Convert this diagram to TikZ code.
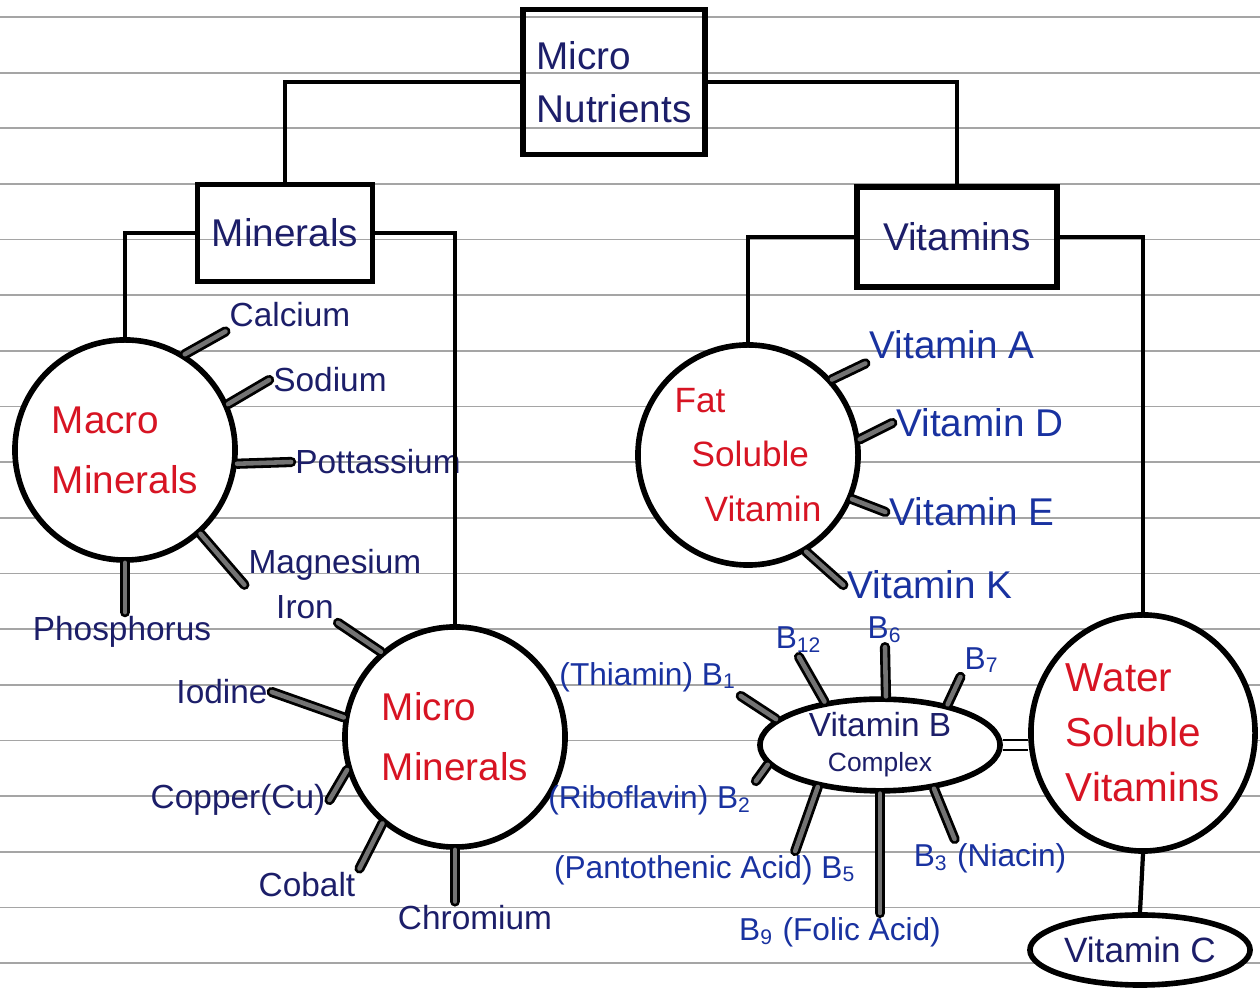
\documentclass[tikz,border=0pt]{standalone}
\usepackage{fontspec}
\setmainfont{Liberation Sans}
\usetikzlibrary{shapes.geometric,positioning,calc}
\definecolor{ink-navy}{RGB}{28,30,105}
\definecolor{ink-blue}{RGB}{25,50,160}
\definecolor{ink-red}{RGB}{215,20,35}
\definecolor{ruled}{RGB}{165,165,165}

\begin{document}
\begin{tikzpicture}[x=0.01cm, y=-0.01cm,
    headbox/.style={rectangle, draw, line width=1.5pt, text=ink-navy, align=left, font=\fontsize{11}{15}\selectfont},
    group/.style={circle, draw, line width=1.6pt, fill=white, text=ink-red, align=left, minimum size=2.2cm, inner sep=-10pt, font=\fontsize{11}{17}\selectfont},
    oval/.style={ellipse, draw, line width=1.6pt, fill=white, inner sep=0pt},
    leaf/.style={text=ink-navy, inner sep=1pt, font=\fontsize{9.5}{12}\selectfont},
    vit/.style={leaf, text=ink-blue, font=\fontsize{11}{13}\selectfont},
    bvit/.style={leaf, text=ink-blue, font=\fontsize{9}{11}\selectfont},
    link/.style={line width=1.2pt},
    spoke/.style={line width=0.8pt, double=black!55, double distance=1.3pt, line cap=round}]

    \useasboundingbox (0,0) rectangle (1260,992);

    % Ruled paper
    \foreach \k in {0,...,17}
        \draw[ruled, line width=0.5pt] (0,{17+55.65*\k}) -- (1260,{17+55.65*\k});

    % Boxes
    \node[headbox, minimum width=1.82cm, minimum height=1.45cm] (micronut) at (614,82) {Micro\\Nutrients};
    \node[headbox, minimum width=1.75cm, minimum height=0.97cm] (minerals) at (285,233) {Minerals};
    \node[headbox, minimum width=2.0cm, minimum height=1.0cm] (vitamins) at (957,237) {Vitamins};

    % Groups
    \node[group] (macro) at (125,450) {Macro\\Minerals};
    \node[group] (micro) at (455,737) {Micro\\Minerals};
    \node[group, font=\fontsize{10}{15.6}\selectfont] (fat) at (748,455)
        {Fat\\\hspace*{0.17cm}Soluble\\\hspace*{0.3cm}Vitamin};
    \node[oval, text=ink-red, align=left, minimum width=2.24cm, minimum height=2.36cm,
        font=\fontsize{11.5}{15.6}\selectfont] (water) at (1143,733) {Water\\Soluble\\Vitamins};
    \node[oval, text=ink-navy, align=center, minimum width=2.4cm, minimum height=0.9cm,
        font=\fontsize{9.5}{10}\selectfont] (vitb) at (880,745) {Vitamin B\\{\fontsize{7.5}{8}\selectfont Complex}};
    \node[oval, text=ink-navy, minimum width=2.2cm, minimum height=0.7cm,
        font=\fontsize{10}{12}\selectfont] (vitc) at (1140,950) {Vitamin C};

    % Macro minerals
    \node[leaf] (calcium) at (290,315) {Calcium};
    \node[leaf] (sodium) at (330,380) {Sodium};
    \node[leaf] (potassium) at (378,462) {Pottassium};
    \node[leaf] (magnesium) at (335,565) {Magnesium};
    \node[leaf] (phosphorus) at (122,632) {Phosphorus};

    % Micro minerals
    \node[leaf] (iron) at (305,607) {Iron};
    \node[leaf] (iodine) at (222,692) {Iodine};
    \node[leaf] (copper) at (238,800) {Copper(Cu)};
    \node[leaf] (cobalt) at (307,885) {Cobalt};
    \node[leaf] (chromium) at (475,918) {Chromium};

    % Fat soluble
    \node[vit] (vita) at (952,345) {Vitamin A};
    \node[vit] (vitd) at (980,423) {Vitamin D};
    \node[vit] (vite) at (972,512) {Vitamin E};
    \node[vit] (vitk) at (930,585) {Vitamin K};

    % B complex
    \node[bvit] (thiamin) at (648,677) {(Thiamin) B\textsubscript{1}};
    \node[bvit] (btwelve) at (799,640) {B\textsubscript{12}};
    \node[bvit] (bsix) at (885,630) {B\textsubscript{6}};
    \node[bvit] (bseven) at (982,660) {B\textsubscript{7}};
    \node[bvit] (riboflavin) at (650,800) {(Riboflavin) B\textsubscript{2}};
    \node[bvit] (pantothenic) at (705,870) {(Pantothenic Acid) B\textsubscript{5}};
    \node[bvit] (folic) at (840,932) {B\textsubscript{9} (Folic Acid)};
    \node[bvit] (niacin) at (990,858) {B\textsubscript{3} (Niacin)};

    % Tree links
    \draw[link] (micronut.west) -| (minerals.north);
    \draw[link] (micronut.east) -| (vitamins.north);
    \draw[link] (minerals.west) -| (macro.north);
    \draw[link] (minerals.east) -| (micro.north);
    \draw[link] (vitamins.west) -| (fat.north);
    \draw[link] (vitamins.east) -| (water.north);
    \draw[link] (water.south) -- (vitc.north);
    \draw[line width=0.8pt, double=white, double distance=2pt] (vitb.east) -- (vitb.east -| water.west);

    % Spokes
    \draw[spoke] (macro.58) -- (calcium.south west);
    \draw[spoke] (macro.24) -- (sodium.west);
    \draw[spoke] (macro.-7) -- (potassium.west);
    \draw[spoke] (macro.-48) -- (magnesium.south west);
    \draw[spoke] (macro.south) -- (macro.south |- phosphorus.north);

    \draw[spoke] (micro.131) -- (iron.south east);
    \draw[spoke] (micro.170) -- (iodine.east);
    \draw[spoke] (micro.-163) -- (copper.east);
    \draw[spoke] (micro.-130) -- (cobalt.north east);
    \draw[spoke] (micro.south) -- (micro.south |- chromium.north);

    \draw[spoke] (fat.42) -- (vita.south west);
    \draw[spoke] (fat.8) -- (vitd.west);
    \draw[spoke] (fat.-23) -- (vite.west);
    \draw[spoke] (fat.-59) -- (vitk.west);

    \draw[spoke] (vitb.166) -- (thiamin.south east);
    \draw[spoke] (vitb.142) -- (btwelve.south);
    \draw[spoke] (vitb.83) -- (bsix.south);
    \draw[spoke] (vitb.31) -- (bseven.south west);
    \draw[spoke] (vitb.-170) -- (riboflavin.north east);
    \draw[spoke] (vitb.-146) -- ($(pantothenic.north east)+(-65,0)$);
    \draw[spoke] (vitb.south) -- (vitb.south |- folic.north);
    \draw[spoke] (vitb.-39) -- ($(niacin.north west)+(45,0)$);
\end{tikzpicture}
\end{document}
